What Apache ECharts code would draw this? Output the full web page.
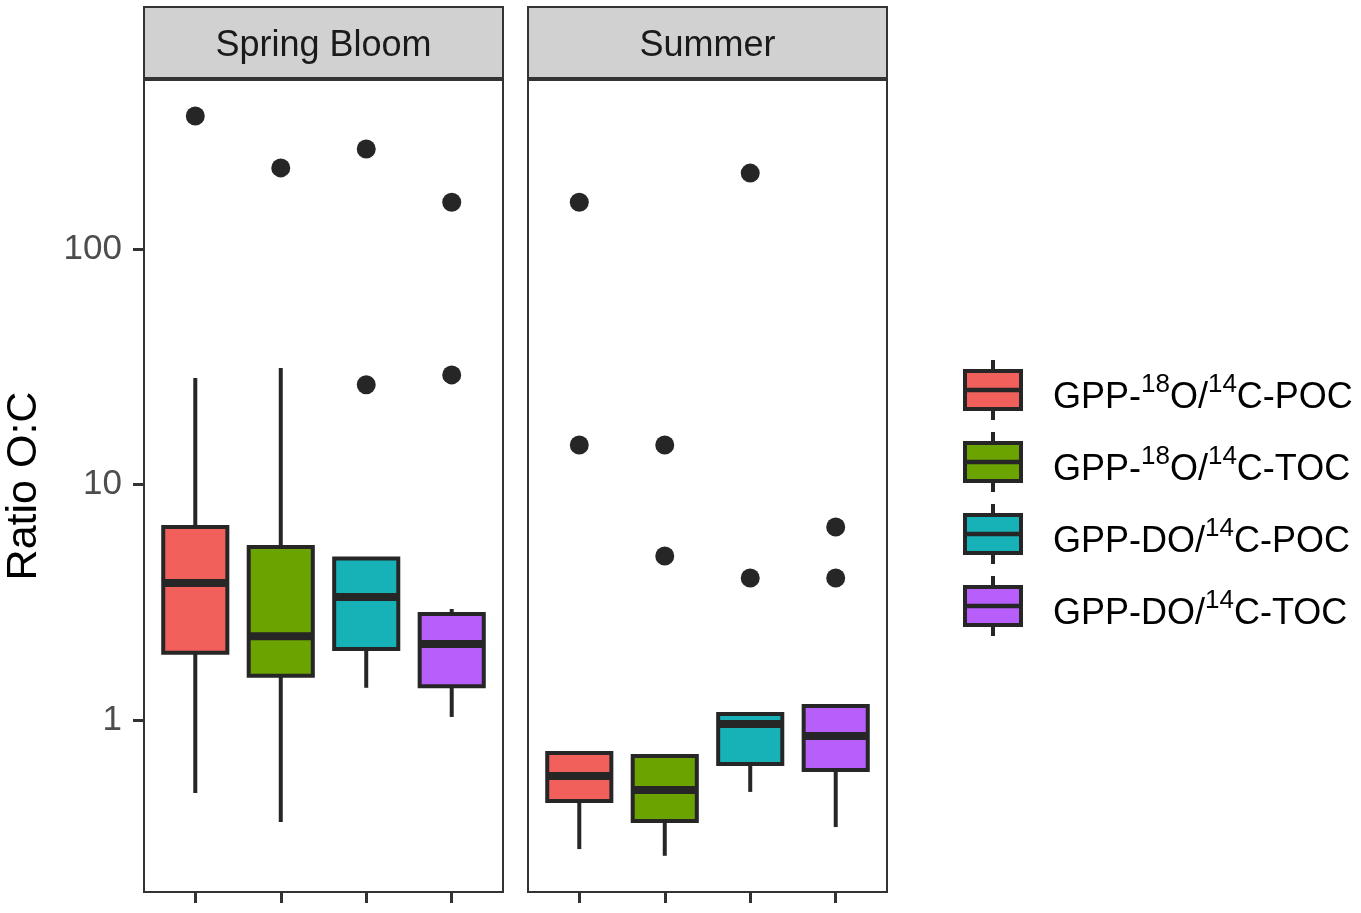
<!DOCTYPE html>
<html><head><meta charset="utf-8">
<script src="https://cdn.jsdelivr.net/npm/echarts@6/dist/echarts.min.js"></script>
<style>html,body{margin:0;padding:0;background:#fff}#c{width:1361px;height:913px}</style>
</head><body><div id="c"></div>
<script>
// ---- data ----
const facets = ['Spring Bloom', 'Summer'];
const groups = ['GPP-18O/14C-POC', 'GPP-18O/14C-TOC', 'GPP-DO/14C-POC', 'GPP-DO/14C-TOC'];
// [lower whisker, Q1, median, Q3, upper whisker]
const springStats = [
  [0.490, 1.93, 3.82, 6.60, 28.3],
  [0.369, 1.54, 2.27, 5.43, 31.2],
  [1.37, 2.00, 3.33, 4.85, 4.90],
  [1.03, 1.39, 2.10, 2.82, 2.96]
];
const summerStats = [
  [0.283, 0.453, 0.578, 0.724, 0.724],
  [0.265, 0.372, 0.504, 0.703, 0.703],
  [0.495, 0.650, 0.962, 1.06, 1.06],
  [0.351, 0.613, 0.855, 1.147, 1.147]
];
// outliers: [group index, value]
const springOutliers = [[0, 367], [1, 221], [2, 266], [2, 26.5], [3, 158], [3, 29.2]];
const summerOutliers = [[0, 158], [0, 14.7], [1, 14.7], [1, 4.97], [2, 210], [2, 4.01], [3, 6.60], [3, 4.01]];
const yTicks = [1, 10, 100];
const xTicks = [0, 1, 2, 3];

// ---- styles ----
const boxColors = ['#F2605C', '#6BA300', '#17B2B8', '#B85EFB'];
const ink = '#262626';
const FONT = '"Liberation Sans", Arial, sans-serif';
const LW = 4;

const chart = echarts.init(document.getElementById('c'));

function renderBox(params, api) {
  const x = api.value(0);
  const lo = api.value(1), q1 = api.value(2), med = api.value(3), q3 = api.value(4), hi = api.value(5);
  const hw = 0.375;
  const pLo = api.coord([x, lo]), pHi = api.coord([x, hi]);
  const pQ1 = api.coord([x, q1]), pQ3 = api.coord([x, q3]);
  const pL = api.coord([x - hw, q1]), pR = api.coord([x + hw, q3]);
  const mL = api.coord([x - hw, med]), mR = api.coord([x + hw, med]);
  const color = boxColors[params.dataIndex];
  const children = [];
  if (pLo[1] - pQ1[1] > 0.5) children.push({type: 'line', shape: {x1: pLo[0], y1: pLo[1], x2: pQ1[0], y2: pQ1[1]}, style: {stroke: ink, lineWidth: LW}});
  if (pQ3[1] - pHi[1] > 0.5) children.push({type: 'line', shape: {x1: pQ3[0], y1: pQ3[1], x2: pHi[0], y2: pHi[1]}, style: {stroke: ink, lineWidth: LW}});
  children.push({type: 'rect', shape: {x: pL[0], y: pR[1], width: pR[0] - pL[0], height: pL[1] - pR[1]}, style: {fill: color, stroke: ink, lineWidth: LW}});
  children.push({type: 'line', shape: {x1: mL[0], y1: mL[1], x2: mR[0], y2: mR[1]}, style: {stroke: ink, lineWidth: 8}});
  return {type: 'group', children};
}

const grids = [
  {left: 144, top: 80, width: 359, height: 812},
  {left: 528, top: 80, width: 359, height: 812}
].map(g => Object.assign(g, {show: true, borderColor: '#333333', borderWidth: 2, backgroundColor: '#fff'}));

const xAxes = [0, 1].map(i => ({
  type: 'value', gridIndex: i, min: -0.6, max: 3.6,
  axisLine: {show: false, onZero: false}, splitLine: {show: false},
  axisLabel: {show: false},
  axisTick: {show: true, length: 11, customValues: xTicks, lineStyle: {color: '#333333', width: 3}}
}));

const yAxes = [0, 1].map(i => ({
  type: 'log', logBase: 10, gridIndex: i, min: 0.186, max: 522,
  axisLine: {show: false, onZero: false}, splitLine: {show: false},
  axisTick: {show: i === 0, length: 11, customValues: yTicks, lineStyle: {color: '#333333', width: 3}},
  axisLabel: {show: i === 0, customValues: yTicks, margin: 22, fontSize: 35, color: '#4D4D4D', fontFamily: FONT},
  name: i === 0 ? 'Ratio O:C' : '', nameLocation: 'middle', nameRotate: 90, nameGap: 98,
  nameTextStyle: {fontSize: 43, color: '#000', fontFamily: FONT}
}));

const allStats = [springStats, summerStats];
const allOut = [springOutliers, summerOutliers];
const series = [];
[0, 1].forEach(i => {
  series.push({
    type: 'custom', xAxisIndex: i, yAxisIndex: i,
    renderItem: renderBox,
    encode: {x: 0, y: [1, 2, 3, 4, 5]},
    data: allStats[i].map((s, k) => [xTicks[k]].concat(s)),
    z: 2
  });
  series.push({
    type: 'scatter', xAxisIndex: i, yAxisIndex: i,
    symbol: 'circle', symbolSize: 19,
    itemStyle: {color: ink, opacity: 1},
    data: allOut[i],
    z: 3
  });
});

// strips
const graphics = [];
grids.forEach((g, i) => {
  graphics.push({type: 'rect', shape: {x: g.left, y: 7, width: g.width, height: 71},
    style: {fill: '#D1D1D1', stroke: '#333333', lineWidth: 2}});
  graphics.push({type: 'text', x: g.left + g.width / 2, y: 46,
    style: {text: facets[i], fontSize: 36, fontFamily: FONT, fill: '#1A1A1A', align: 'center', verticalAlign: 'middle'}});
});

// legend
const legendRich = [
  '{b|GPP-}{s|18}{b|O/}{s|14}{b|C-POC}',
  '{b|GPP-}{s|18}{b|O/}{s|14}{b|C-TOC}',
  '{b|GPP-DO/}{s|14}{b|C-POC}',
  '{b|GPP-DO/}{s|14}{b|C-TOC}'
];
groups.forEach((name, k) => {
  const cy = 390 + k * 72;
  graphics.push({type: 'line', shape: {x1: 993, y1: cy - 30, x2: 993, y2: cy + 30}, style: {stroke: ink, lineWidth: LW}});
  graphics.push({type: 'rect', shape: {x: 965, y: cy - 19, width: 56, height: 38}, style: {fill: boxColors[k], stroke: ink, lineWidth: LW}});
  graphics.push({type: 'line', shape: {x1: 965, y1: cy, x2: 1021, y2: cy}, style: {stroke: ink, lineWidth: 4.5}});
  graphics.push({type: 'text', x: 1053, y: cy + 4,
    style: {text: legendRich[k], align: 'left', verticalAlign: 'middle',
      rich: {
        b: {fontSize: 36, fontFamily: FONT, fill: '#000', lineHeight: 44, verticalAlign: 'bottom'},
        s: {fontSize: 26, fontFamily: FONT, fill: '#000', lineHeight: 22, verticalAlign: 'top'}
      }}});
});

chart.setOption({
  animation: false,
  backgroundColor: '#fff',
  grid: grids,
  xAxis: xAxes,
  yAxis: yAxes,
  series: series,
  graphic: graphics
});
</script></body></html>
